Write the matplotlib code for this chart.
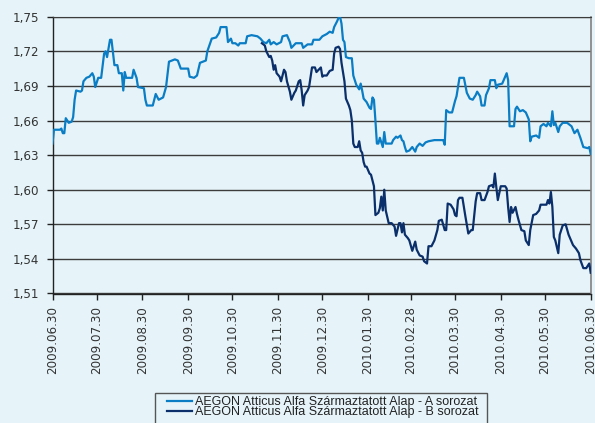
import matplotlib
matplotlib.use('Agg')
import matplotlib.pyplot as plt
import matplotlib.patches as mpatches
import numpy as np

# day offsets from 2009-06-30 and fund prices
start = np.datetime64('2009-06-30')

a_days = [0, 1, 5, 6, 7, 8, 9, 11, 13, 14, 15, 16, 19, 20, 21, 23, 25, 27, 28, 29,
          31, 33, 35, 36, 37, 39, 40, 42, 44, 45, 47, 48, 49, 50, 54, 55, 57, 58, 62, 63,
          64, 68, 70, 72, 75, 77, 79, 83, 85, 87, 92, 93, 96, 98, 100, 102, 104, 105, 108, 111,
          113, 114, 118, 119, 121, 122, 124, 126, 127, 131, 132, 135, 139, 141, 143, 145, 147, 148, 150, 152,
          155, 156, 159, 161, 162, 165, 169, 170, 173, 176, 177, 181, 183, 186, 188, 190, 191, 193, 194, 195,
          196, 197, 198, 199, 201, 203, 204, 206, 208, 209, 210, 211, 213, 215, 216, 217, 218, 219, 220, 221,
          222, 224, 225, 226, 230, 231, 233, 234, 236, 237, 238, 239, 240, 242, 244, 246, 247, 249, 251, 253,
          255, 259, 265, 266, 267, 269, 271, 273, 274, 276, 279, 281, 283, 285, 287, 288, 290, 291, 293, 294,
          296, 297, 300, 301, 302, 305, 306, 308, 309, 310, 313, 314, 315, 317, 319, 321, 323, 324, 325, 328,
          330, 331, 333, 335, 336, 338, 339, 340, 341, 343, 344, 346, 349, 352, 354, 356, 358, 360, 363, 364,
          365]
a_vals = [1.640, 1.652, 1.652, 1.653, 1.649, 1.649, 1.662, 1.658, 1.659, 1.663, 1.678, 1.686, 1.685, 1.686, 1.694, 1.697, 1.698, 1.701, 1.698, 1.689,
          1.697, 1.697, 1.718, 1.720, 1.715, 1.730, 1.730, 1.708, 1.708, 1.701, 1.701, 1.686, 1.702, 1.697, 1.697, 1.704, 1.697, 1.689, 1.688, 1.678,
          1.673, 1.673, 1.683, 1.678, 1.680, 1.689, 1.711, 1.713, 1.712, 1.705, 1.705, 1.698, 1.697, 1.699, 1.710, 1.711, 1.712, 1.720, 1.731, 1.732,
          1.736, 1.741, 1.741, 1.728, 1.731, 1.727, 1.727, 1.725, 1.727, 1.727, 1.733, 1.734, 1.733, 1.731, 1.728, 1.727, 1.730, 1.726, 1.728, 1.726,
          1.728, 1.733, 1.734, 1.728, 1.723, 1.727, 1.727, 1.723, 1.726, 1.726, 1.730, 1.730, 1.733, 1.735, 1.737, 1.736, 1.741, 1.746, 1.749, 1.750,
          1.744, 1.730, 1.728, 1.715, 1.714, 1.714, 1.699, 1.691, 1.687, 1.692, 1.686, 1.679, 1.676, 1.671, 1.670, 1.680, 1.678, 1.660, 1.640, 1.640,
          1.645, 1.637, 1.650, 1.640, 1.640, 1.643, 1.646, 1.645, 1.647, 1.643, 1.642, 1.637, 1.633, 1.634, 1.637, 1.633, 1.637, 1.640, 1.638, 1.641,
          1.642, 1.643, 1.643, 1.639, 1.669, 1.667, 1.667, 1.677, 1.681, 1.697, 1.697, 1.684, 1.679, 1.678, 1.682, 1.685, 1.681, 1.673, 1.673, 1.682,
          1.688, 1.695, 1.695, 1.688, 1.691, 1.692, 1.695, 1.701, 1.695, 1.655, 1.655, 1.670, 1.672, 1.668, 1.669, 1.667, 1.661, 1.642, 1.646, 1.647,
          1.645, 1.655, 1.657, 1.655, 1.658, 1.655, 1.668, 1.656, 1.658, 1.650, 1.655, 1.658, 1.658, 1.655, 1.649, 1.652, 1.645, 1.637, 1.636, 1.637,
          1.631]

b_days = [142, 144, 145, 147, 148, 149, 150, 151, 152, 154, 155, 157, 158, 159, 161, 162, 164, 165, 167, 168,
          169, 170, 171, 173, 174, 176, 178, 179, 182, 183, 184, 186, 188, 190, 191, 192, 194, 195, 196, 197,
          198, 199, 201, 202, 203, 204, 205, 207, 208, 209, 210, 211, 212, 213, 215, 216, 217, 218, 219, 221,
          222, 223, 224, 225, 226, 228, 230, 232, 233, 235, 236, 237, 238, 239, 241, 242, 244, 246, 247, 249,
          251, 252, 254, 255, 257, 259, 261, 262, 264, 266, 267, 268, 270, 272, 273, 274, 275, 276, 278, 280,
          282, 284, 285, 287, 288, 290, 291, 293, 295, 296, 298, 299, 300, 301, 302, 304, 307, 308, 309, 310,
          311, 312, 314, 315, 316, 318, 320, 321, 323, 324, 326, 328, 330, 331, 335, 336, 337, 338, 339, 340,
          341, 343, 344, 346, 348, 350, 352, 353, 355, 357, 358, 360, 362, 364, 365]
b_vals = [1.727, 1.725, 1.720, 1.715, 1.716, 1.712, 1.704, 1.708, 1.701, 1.698, 1.694, 1.704, 1.702, 1.694, 1.685, 1.678, 1.684, 1.686, 1.694, 1.695,
          1.686, 1.673, 1.682, 1.686, 1.689, 1.706, 1.706, 1.702, 1.706, 1.698, 1.699, 1.699, 1.703, 1.704, 1.718, 1.723, 1.724, 1.722, 1.710, 1.702,
          1.694, 1.679, 1.673, 1.669, 1.660, 1.640, 1.637, 1.637, 1.642, 1.634, 1.632, 1.624, 1.620, 1.620, 1.614, 1.613, 1.608, 1.603, 1.578, 1.580,
          1.584, 1.594, 1.582, 1.600, 1.582, 1.571, 1.571, 1.568, 1.560, 1.571, 1.571, 1.563, 1.571, 1.561, 1.558, 1.556, 1.547, 1.555, 1.548, 1.543,
          1.542, 1.538, 1.536, 1.551, 1.551, 1.556, 1.565, 1.573, 1.574, 1.565, 1.565, 1.588, 1.587, 1.583, 1.578, 1.577, 1.591, 1.593, 1.593, 1.577,
          1.562, 1.565, 1.565, 1.590, 1.597, 1.597, 1.591, 1.591, 1.598, 1.603, 1.604, 1.602, 1.614, 1.602, 1.591, 1.603, 1.603, 1.601, 1.585, 1.572,
          1.585, 1.580, 1.585, 1.579, 1.574, 1.565, 1.564, 1.556, 1.552, 1.565, 1.578, 1.579, 1.582, 1.587, 1.587, 1.591, 1.588, 1.598, 1.585, 1.559,
          1.556, 1.545, 1.561, 1.569, 1.570, 1.561, 1.555, 1.552, 1.549, 1.545, 1.539, 1.532, 1.532, 1.536, 1.528]

a_label = 'AEGON Atticus Alfa Származtatott Alap - A sorozat'
b_label = 'AEGON Atticus Alfa Származtatott Alap - B sorozat'

tick_dates = ['2009-06-30', '2009-07-30', '2009-08-30', '2009-09-30', '2009-10-30',
              '2009-11-30', '2009-12-30', '2010-01-30', '2010-02-28', '2010-03-30',
              '2010-04-30', '2010-05-30', '2010-06-30']
yticks = [1.51, 1.54, 1.57, 1.60, 1.63, 1.66, 1.69, 1.72, 1.75]

bg = '#e6f4fa'
col_a = '#0a7dc5'
col_b = '#0b2f6a'

a_dates = start + np.array(a_days, dtype='timedelta64[D]')
b_dates = start + np.array(b_days, dtype='timedelta64[D]')
xt = np.array(tick_dates, dtype='datetime64[D]')

W, H = 595, 423
fig = plt.figure(figsize=(W/100, H/100), dpi=100, facecolor=bg)
ax = fig.add_axes([52.5/W, 1 - 293.5/H, (590.7 - 52.5)/W, (293.5 - 16.7)/H])
ax.set_facecolor(bg)

ax.plot(a_dates, a_vals, color=col_a, lw=1.6, label=a_label, zorder=3)
ax.plot(b_dates, b_vals, color=col_b, lw=1.6, label=b_label, zorder=3)

ax.set_xlim(xt[0], xt[-1])
ax.set_ylim(yticks[0], yticks[-1])
ax.set_yticks(yticks)
ax.set_yticklabels([f'{v:.2f}'.replace('.', ',') for v in yticks])
ax.set_xticks(xt)
ax.set_xticklabels([d.replace('-', '.') for d in tick_dates], rotation=90)

ax.yaxis.grid(True, color='#3c3c3c', lw=1.0)
ax.set_axisbelow(True)
for side in ['left', 'bottom']:
    ax.spines[side].set_color('#222222')
    ax.spines[side].set_linewidth(1.0)
ax.spines['top'].set_color('#3c3c3c')
ax.spines['right'].set_color('#808080')
ax.spines['right'].set_linewidth(1.2)

ax.tick_params(axis='y', direction='out', length=4, width=1, pad=5.5,
               labelsize=8.6, labelcolor='#333333', color='#222222')
ax.tick_params(axis='x', direction='out', length=4, width=1, pad=5,
               labelsize=8.6, labelcolor='#333333', color='#222222')

# legend box is cut off by the bottom edge, so draw the frame by hand
box = mpatches.Rectangle((155/W, -0.05), (487 - 155)/W, 1 - 392.7/H + 0.05,
                         transform=fig.transFigure, fill=False,
                         edgecolor='#555555', lw=1.0)
fig.patches.append(box)

leg = fig.legend(loc='upper left', bbox_to_anchor=(166.7/W, 1 - 396/H),
                 borderaxespad=0, borderpad=0, frameon=False,
                 prop={'family': 'Liberation Sans', 'size': 9},
                 handlelength=2.0, handletextpad=0.27, labelspacing=-0.17)
for t in leg.get_texts():
    t.set_color('#222222')

fig.savefig('out.png', dpi=100, facecolor=bg)
